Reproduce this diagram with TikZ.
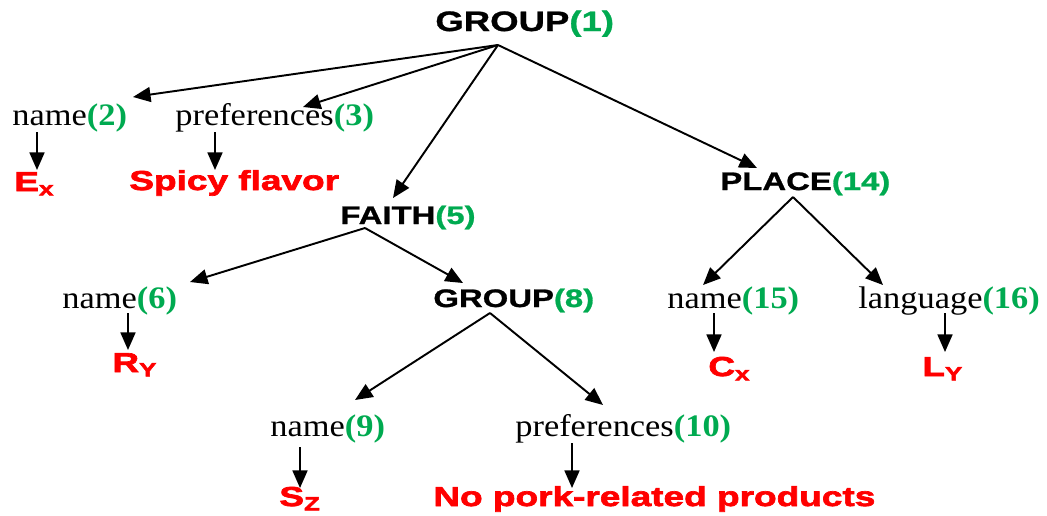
\documentclass[tikz,border=0pt]{standalone}
\usepackage{fontspec}
\usepackage{xcolor}
\usepackage{tikz}
\usetikzlibrary{calc,arrows.meta}
\setmainfont{Liberation Serif}[FakeStretch=1.1]
\newfontfamily\capsfont{Liberation Sans}[FakeStretch=1.3,FakeBold=1]
\newfontfamily\valfont{Liberation Sans}[FakeStretch=1.35,FakeBold=2.5]
\definecolor{numgreen}{RGB}{0,170,80}
\newcommand{\num}[1]{\textcolor{numgreen}{\bfseries(#1)}}
\newcommand{\lowsub}[1]{\raisebox{-2.5pt}{\fontsize{11}{11}\selectfont #1}}

\tikzset{
    attr/.style={anchor=base west, inner sep=0pt, font=\fontsize{17.8}{20}\selectfont},
    concept/.style={anchor=base west, inner sep=0pt, font=\capsfont\bfseries\fontsize{14.4}{17}\selectfont},
    value/.style={anchor=base west, inner sep=0pt, text=red, font=\valfont\bfseries\fontsize{15.6}{18}\selectfont},
    link/.style={-{Triangle[length=10pt,width=8.5pt]}, line width=1.1pt}
}

\begin{document}
\begin{tikzpicture}[x=0.02cm, y=-0.02cm]
    \useasboundingbox (0,0) rectangle (1047,515);

    % Top group
    \node[concept, font=\capsfont\bfseries\fontsize{16}{19}\selectfont] (g1) at (435,31) {GROUP\num{1}};
    \node[attr] (n2) at (12,125) {name\num{2}};
    \node[attr] (p3) at (175,125) {preferences\num{3}};
    \node[value] (ex) at (14,191) {E\lowsub{x}};
    \node[value] (spicy) at (129,190) {Spicy flavor};
    \node[concept] (f5) at (340,224) {FAITH\num{5}};
    \node[concept] (pl14) at (720,190) {PLACE\num{14}};

    % Faith
    \node[attr] (n6) at (62,308) {name\num{6}};
    \node[concept] (g8) at (433,307) {GROUP\num{8}};
    \node[value] (ry) at (112,372) {R\lowsub{Y}};
    \node[attr] (n9) at (270,436) {name\num{9}};
    \node[attr] (p10) at (515,436) {preferences\num{10}};
    \node[value] (sz) at (279,506) {S\lowsub{Z}};
    \node[value] (nopork) at (433,506) {No pork-related products};

    % Place
    \node[attr] (n15) at (667,308) {name\num{15}};
    \node[attr] (l16) at (858,308) {language\num{16}};
    \node[value] (cx) at (708,376) {C\lowsub{x}};
    \node[value] (ly) at (922,376) {L\lowsub{Y}};

    % Arrows from GROUP(1)
    \draw[link] ($(g1.base west)+(63,14)$) -- ($(n2.base west)+(121,-28)$);
    \draw[link] ($(g1.base west)+(63,14)$) -- ($(p3.base west)+(128,-18)$);
    \draw[link] ($(g1.base west)+(63,14)$) -- ($(f5.base west)+(53,-26)$);
    \draw[link] ($(g1.base west)+(63,14)$) -- ($(pl14.base west)+(37,-22)$);
    \draw[link] ($(n2.base west)+(25,7)$) -- ($(ex.base west)+(23,-21)$);
    \draw[link] ($(p3.base west)+(40,7)$) -- ($(spicy.base west)+(86,-20)$);

    % Arrows from FAITH(5) and GROUP(8)
    \draw[link] ($(f5.base west)+(25,4)$) -- ($(n6.base west)+(128,-26)$);
    \draw[link] ($(f5.base west)+(25,4)$) -- ($(g8.base west)+(30,-24)$);
    \draw[link] ($(n6.base west)+(66,5)$) -- ($(ry.base west)+(16,-22)$);
    \draw[link] ($(g8.base west)+(57,6)$) -- ($(n9.base west)+(85,-36)$);
    \draw[link] ($(g8.base west)+(57,6)$) -- ($(p10.base west)+(88,-31)$);
    \draw[link] ($(n9.base west)+(30,11)$) -- ($(sz.base west)+(21,-18)$);
    \draw[link] ($(p10.base west)+(57,7)$) -- ($(nopork.base west)+(139,-18)$);

    % Arrows from PLACE(14)
    \draw[link] ($(pl14.base west)+(73,7)$) -- ($(n15.base west)+(36,-23)$);
    \draw[link] ($(pl14.base west)+(73,7)$) -- ($(l16.base west)+(25,-23)$);
    \draw[link] ($(n15.base west)+(47,5)$) -- ($(cx.base west)+(6,-24)$);
    \draw[link] ($(l16.base west)+(87,5)$) -- ($(ly.base west)+(23,-24)$);
\end{tikzpicture}
\end{document}
